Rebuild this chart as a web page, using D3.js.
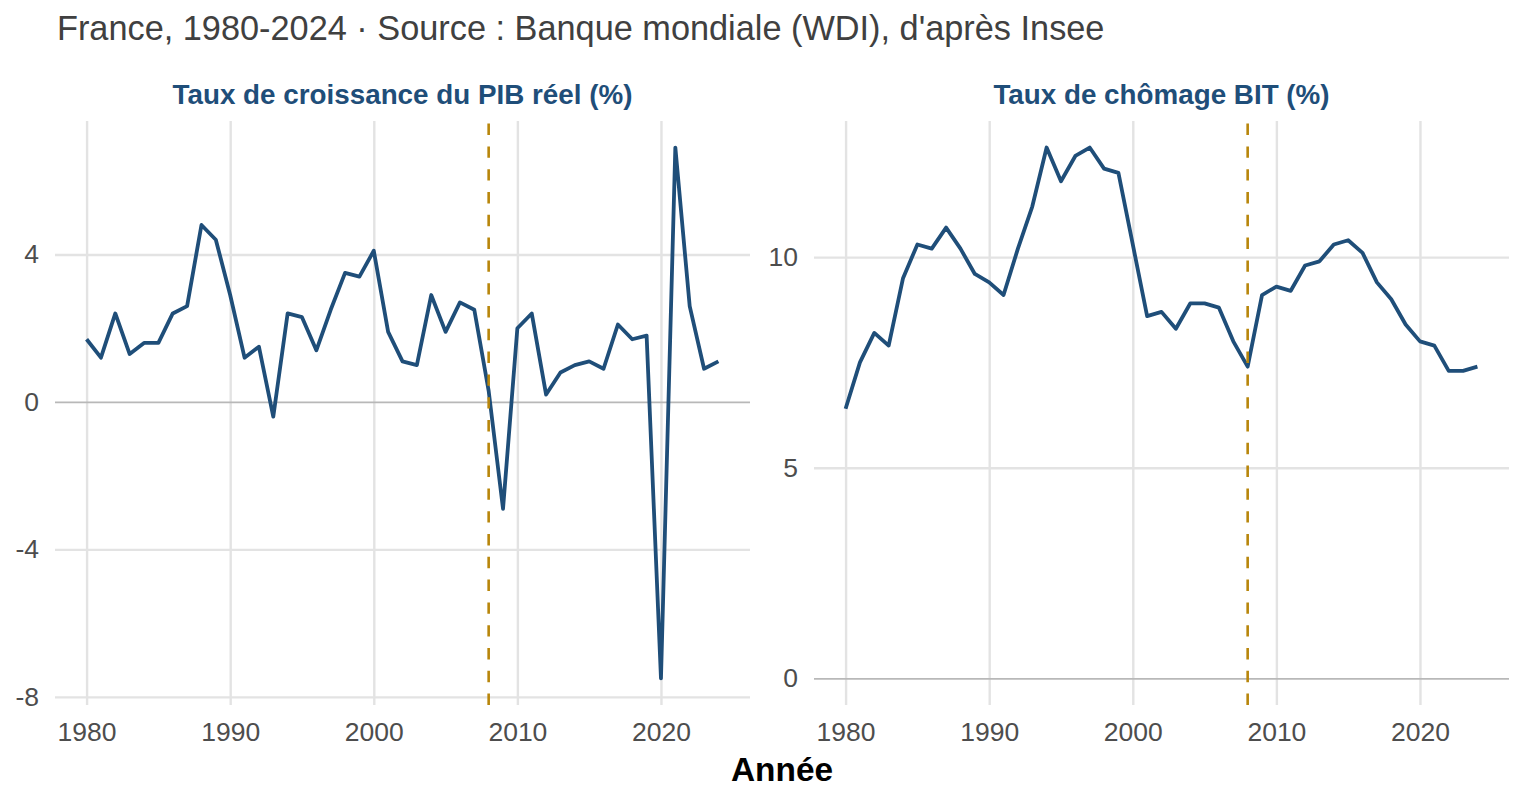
<!DOCTYPE html>
<html>
<head>
<meta charset="utf-8">
<script src="https://cdn.jsdelivr.net/npm/d3@7/dist/d3.min.js"></script>
<style>
  html, body { margin: 0; padding: 0; background: #ffffff; }
  svg { display: block; font-family: "Liberation Sans", Arial, Helvetica, sans-serif; }
</style>
</head>
<body>
<svg id="chart" width="1536" height="806"></svg>
<script>
// ---- Data ----
const years = d3.range(1980, 2025);
const gdpGrowth = [1.7, 1.2, 2.4, 1.3, 1.6, 1.6, 2.4, 2.6, 4.8, 4.4,
                   2.9, 1.2, 1.5, -0.4, 2.4, 2.3, 1.4, 2.5, 3.5, 3.4,
                   4.1, 1.9, 1.1, 1.0, 2.9, 1.9, 2.7, 2.5, 0.3, -2.9,
                   2.0, 2.4, 0.2, 0.8, 1.0, 1.1, 0.9, 2.1, 1.7, 1.8,
                   -7.5, 6.9, 2.6, 0.9, 1.1];
const unemployment = [6.4, 7.5, 8.2, 7.9, 9.5, 10.3, 10.2, 10.7, 10.2, 9.6,
                      9.4, 9.1, 10.2, 11.2, 12.6, 11.8, 12.4, 12.6, 12.1, 12.0,
                      10.3, 8.6, 8.7, 8.3, 8.9, 8.9, 8.8, 8.0, 7.4, 9.1,
                      9.3, 9.2, 9.8, 9.9, 10.3, 10.4, 10.1, 9.4, 9.0, 8.4,
                      8.0, 7.9, 7.3, 7.3, 7.4];
const xTicks = [1980, 1990, 2000, 2010, 2020];
const gdpTicks = [-8, -4, 0, 4];
const unempTicks = [0, 5, 10];
const crisisYear = [2008];
const panelTitles = ["Taux de croissance du PIB réel (%)", "Taux de chômage BIT (%)"];
const plotTitle = "France, 1980-2024 · Source : Banque mondiale (WDI), d'après Insee";
const xAxisTitle = "Année";

// ---- Layout ----
const svg = d3.select("#chart");
const panelTop = 121, panelBottom = 705;
const panels = [
  { left: 55, right: 750, values: gdpGrowth, ticks: gdpTicks, title: panelTitles[0], includeZero: false },
  { left: 814, right: 1509, values: unemployment, ticks: unempTicks, title: panelTitles[1], includeZero: true }
];

const lineColor = "#1F4E79";
const vlineColor = "#B8860B";
const gridColor = "#E3E3E3";
const zeroColor = "#B8B8B8";
const tickTextColor = "#4D4D4D";

// plot title
svg.append("text")
  .attr("x", 57).attr("y", 40)
  .attr("font-size", 34.3)
  .attr("fill", "#404040")
  .text(plotTitle);

// x axis title
svg.append("text")
  .attr("x", (55 + 1509) / 2).attr("y", 781)
  .attr("text-anchor", "middle")
  .attr("font-size", 33.4)
  .attr("font-weight", "bold")
  .attr("fill", "#000")
  .text(xAxisTitle);

function expand(ext) {
  const span = ext[1] - ext[0];
  return [ext[0] - 0.05 * span, ext[1] + 0.05 * span];
}

const fmt = d => String(d);

panels.forEach(p => {
  const data = years.map((yr, i) => ({ year: yr, value: p.values[i] }));
  const x = d3.scaleLinear().domain(expand(d3.extent(years))).range([p.left, p.right]);
  let ext = d3.extent(p.values);
  if (p.includeZero) ext = [Math.min(0, ext[0]), Math.max(0, ext[1])];
  const y = d3.scaleLinear().domain(expand(ext)).range([panelBottom, panelTop]);

  const g = svg.append("g");

  // grid (vertical) + x tick labels
  const xAxis = d3.axisBottom(x).tickValues(xTicks).tickSize(-(panelBottom - panelTop)).tickFormat(fmt);
  const gx = g.append("g").attr("transform", `translate(0,${panelBottom})`).call(xAxis);
  gx.select(".domain").remove();
  gx.selectAll(".tick line").attr("stroke", gridColor).attr("stroke-width", 2.4);
  gx.selectAll(".tick text").attr("fill", tickTextColor).attr("font-size", 26.5)
    .attr("font-family", "Liberation Sans, Arial, sans-serif").attr("dy", null).attr("y", 36);

  // grid (horizontal) + y tick labels
  const yAxis = d3.axisLeft(y).tickValues(p.ticks).tickSize(-(p.right - p.left)).tickFormat(fmt);
  const gy = g.append("g").attr("transform", `translate(${p.left},0)`).call(yAxis);
  gy.select(".domain").remove();
  gy.selectAll(".tick line").attr("stroke", d => d === 0 ? zeroColor : gridColor)
    .attr("stroke-width", d => d === 0 ? 1.8 : 2.4);
  gy.selectAll(".tick text").attr("fill", tickTextColor).attr("font-size", 26.5)
    .attr("font-family", "Liberation Sans, Arial, sans-serif").attr("x", -16);
  gy.selectAll(".tick").filter(d => d === 0).raise();

  // line
  const line = d3.line().x(d => x(d.year)).y(d => y(d.value));
  g.append("path").datum(data)
    .attr("d", line)
    .attr("fill", "none")
    .attr("stroke", lineColor)
    .attr("stroke-width", 3.8)
    .attr("stroke-linejoin", "round")
    .attr("stroke-linecap", "butt");

  // dashed vline at 2008
  g.selectAll(".vline").data(crisisYear).enter().append("line")
    .attr("class", "vline")
    .attr("x1", d => x(d)).attr("x2", d => x(d))
    .attr("y1", panelBottom).attr("y2", panelTop)
    .attr("stroke", vlineColor)
    .attr("stroke-width", 2.6)
    .attr("stroke-dasharray", "11.4,11.4");

  // panel title
  g.append("text")
    .attr("x", (p.left + p.right) / 2).attr("y", 104)
    .attr("text-anchor", "middle")
    .attr("font-size", 27.8)
    .attr("font-weight", "bold")
    .attr("fill", lineColor)
    .text(p.title);
});
</script>
</body>
</html>
